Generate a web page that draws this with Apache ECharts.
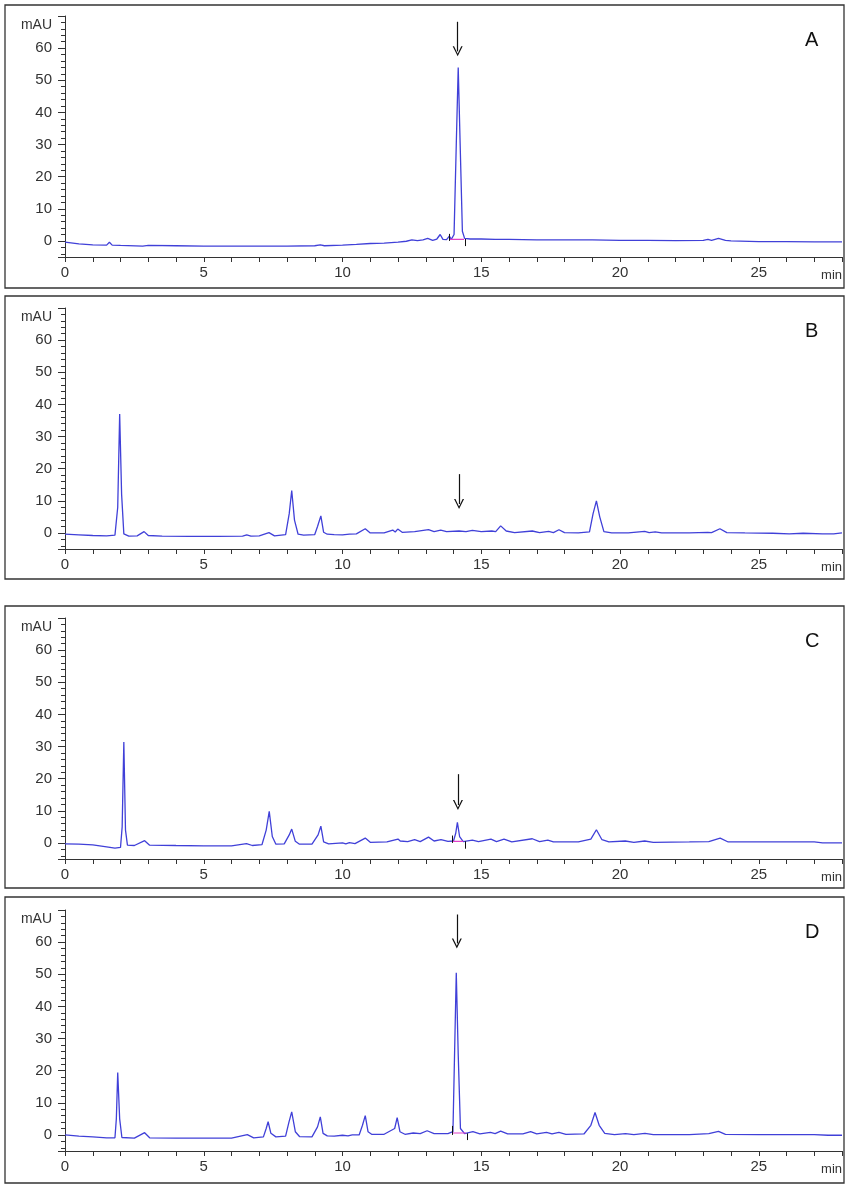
<!DOCTYPE html>
<html><head><meta charset="utf-8">
<script src="https://cdn.jsdelivr.net/npm/echarts@6/dist/echarts.min.js"></script>
<style>html,body{margin:0;padding:0;background:#fff}#c{width:850px;height:1187px}</style>
</head><body><div id="c"></div>
<script>
// ---------------- DATA ----------------
const panelLabels = ['A', 'B', 'C', 'D'];
const xTickLabels = [0, 5, 10, 15, 20, 25];
const yTickLabels = [0, 10, 20, 30, 40, 50, 60];
const xUnit = 'min';
const yUnit = 'mAU';

const traceA = [[0,-0.4],[0.5,-0.9],[1.0,-1.2],[1.5,-1.3],[1.6,-0.4],[1.7,-1.3],[2.0,-1.4],[2.8,-1.6],[3.0,-1.4],[4.0,-1.5],[5.0,-1.6],[6.0,-1.6],[7.0,-1.6],[8.0,-1.6],[9.0,-1.5],[9.2,-1.2],[9.35,-1.5],[10.0,-1.3],[10.5,-1.1],[11.0,-0.8],[11.5,-0.7],[12.0,-0.4],[12.3,-0.1],[12.5,0.3],[12.7,0.1],[12.9,0.3],[13.07,0.8],[13.25,0.2],[13.4,0.6],[13.52,2.0],[13.62,0.5],[13.75,0.4],[13.85,1.5],[13.92,0.5],[14.02,2.0],[14.1,30],[14.17,54],[14.24,30],[14.32,3],[14.4,0.8],[14.6,0.6],[15,0.6],[15.5,0.5],[16,0.5],[16.5,0.4],[17,0.3],[18,0.3],[19,0.3],[20,0.2],[21,0.2],[22,0.1],[23,0.2],[23.17,0.5],[23.3,0.2],[23.55,0.8],[23.8,0.2],[24,0.0],[25,-0.2],[26,-0.2],[27,-0.3],[28,-0.3]];

const traceB = [[0,-0.4],[0.5,-0.6],[1.0,-0.8],[1.5,-0.9],[1.8,-0.7],[1.9,8],[1.97,37],[2.04,12],[2.12,-0.3],[2.3,-1.0],[2.6,-0.9],[2.85,0.4],[3.0,-0.8],[3.5,-1.0],[4.5,-1.1],[5.5,-1.1],[6.4,-1.0],[6.55,-0.6],[6.7,-1.0],[7.0,-0.9],[7.35,0.1],[7.55,-0.9],[7.95,-0.5],[8.08,6],[8.17,13.2],[8.27,4],[8.4,-0.4],[8.6,-0.7],[9.0,-0.5],[9.1,2],[9.22,5.3],[9.32,0.2],[9.45,-0.4],[9.7,-0.5],[10.0,-0.6],[10.25,-0.4],[10.5,-0.3],[10.82,1.3],[11.0,0.0],[11.5,0.0],[11.81,0.9],[11.9,0.3],[11.99,1.2],[12.15,0.2],[12.6,0.4],[13.1,1.0],[13.3,0.4],[13.54,0.9],[13.75,0.4],[14.2,0.6],[14.45,0.4],[14.68,0.8],[15.0,0.4],[15.38,0.6],[15.52,0.4],[15.7,2.2],[15.9,0.6],[16.2,0.1],[16.84,0.6],[17.1,0.1],[17.43,0.5],[17.6,0.1],[17.8,1.0],[18.0,0.1],[18.5,0.0],[18.9,0.3],[19.03,6],[19.15,10.0],[19.27,5],[19.42,0.4],[19.7,0.0],[20.3,0.0],[20.89,0.5],[21.05,0.1],[21.27,0.3],[21.5,0.0],[22.5,0.0],[23.16,0.2],[23.3,0.1],[23.6,1.3],[23.85,0.1],[24.5,0.0],[25.5,-0.1],[26.1,-0.3],[26.6,-0.1],[27.3,-0.3],[27.7,-0.3],[28,0.0]];

const traceC = [[0,-0.3],[0.5,-0.4],[1.0,-0.6],[1.5,-1.2],[1.8,-1.6],[2.0,-1.4],[2.06,5],[2.12,31.4],[2.18,4],[2.25,-0.7],[2.5,-0.8],[2.87,0.7],[3.05,-0.7],[4,-0.8],[5,-0.9],[6,-0.9],[6.54,-0.2],[6.75,-0.8],[7.1,-0.5],[7.25,4],[7.36,9.8],[7.47,2],[7.6,-0.4],[7.9,-0.3],[8.08,2.5],[8.17,4.3],[8.3,0.5],[8.45,-0.4],[8.9,-0.4],[9.12,2.5],[9.22,5.2],[9.32,0.3],[9.5,-0.3],[10.0,0.0],[10.12,-0.3],[10.25,0.1],[10.45,-0.2],[10.82,1.5],[11.0,0.2],[11.6,0.3],[12.0,1.2],[12.08,0.6],[12.15,1.0],[12.35,0.4],[12.6,1.0],[12.8,0.4],[13.1,1.8],[13.3,0.6],[13.55,1.0],[13.8,0.5],[14.0,0.6],[14.08,3],[14.14,6.4],[14.22,2],[14.35,0.4],[14.68,0.9],[14.9,0.4],[15.35,1.2],[15.55,0.4],[15.82,1.2],[16.1,0.3],[16.84,1.3],[17.1,0.4],[17.4,0.9],[17.6,0.3],[18.5,0.3],[18.95,1.2],[19.15,4.1],[19.35,1.0],[19.6,0.3],[20.19,0.6],[20.5,0.2],[20.89,0.6],[21.2,0.2],[22.5,0.3],[23.2,0.4],[23.61,1.5],[23.9,0.3],[25,0.3],[26,0.3],[27,0.3],[27.3,0.0],[28,0.0]];

const traceD = [[0,0.0],[0.5,-0.4],[1.0,-0.6],[1.5,-0.9],[1.8,-0.9],[1.85,5],[1.9,19.4],[1.97,5],[2.05,-0.8],[2.5,-1.0],[2.87,0.7],[3.05,-0.9],[4,-1.0],[5,-1.0],[6,-1.0],[6.57,0.1],[6.8,-0.9],[7.15,-0.6],[7.25,2],[7.32,4.1],[7.42,0.5],[7.6,-0.6],[7.95,-0.4],[8.07,4],[8.17,7.2],[8.3,1],[8.45,-0.5],[8.9,-0.6],[9.1,2.5],[9.2,5.6],[9.3,0.5],[9.45,-0.3],[9.7,-0.4],[10.0,-0.1],[10.2,-0.3],[10.35,0.0],[10.6,0.0],[10.72,3],[10.82,6.0],[10.92,1],[11.05,0.2],[11.5,0.2],[11.88,2],[11.97,5.4],[12.07,1],[12.25,0.2],[12.55,0.6],[12.8,0.4],[13.05,1.3],[13.3,0.4],[13.8,0.4],[13.98,1.0],[14.05,30],[14.1,50.5],[14.17,25],[14.25,2],[14.4,0.4],[14.7,1.0],[14.95,0.3],[15.33,0.8],[15.5,0.4],[15.7,1.2],[15.95,0.3],[16.5,0.3],[16.78,1.0],[17.0,0.3],[17.35,0.8],[17.55,0.3],[17.8,0.8],[18.05,0.2],[18.7,0.3],[18.95,3],[19.1,7.0],[19.25,3],[19.45,0.5],[19.8,0.1],[20.2,0.4],[20.5,0.1],[20.9,0.5],[21.2,0.1],[22.5,0.1],[23.2,0.4],[23.55,1.1],[23.8,0.2],[25,0.1],[26,0.1],[27,0.1],[27.5,-0.1],[28,-0.1]];

// arrow annotations (time, start value, end value) per panel
const arrowTime = [14.15, 14.2, 14.16, 14.12];
const arrowFrom = [68.2, 18.3, 21.4, 68.6];
const arrowTo   = [59.0, 9.0, 11.8, 59.6];

// integration baselines (magenta) and event ticks (black)
const integA = [[13.85,0.5],[14.38,0.5]];
const integC = [[13.95,0.5],[14.35,0.5]];
const integD = [[13.95,0.6],[14.45,0.6]];
const ticksA = [[13.85,0,2.2],[14.41,0.6,-1.6]];
const ticksC = [[13.95,0,2.3],[14.43,0.5,-1.8]];
const ticksD = [[13.95,0,2.8],[14.5,0.5,-1.6]];

// ---------------- LAYOUT ----------------
const traces = [traceA, traceB, traceC, traceD];
const integs = [integA, null, integC, integD];
const tickSets = [ticksA, null, ticksC, ticksD];
const gridTops = [16, 308, 618, 910];
const gridH = 241;
const frameTops = [5, 296, 606, 897];
const frameHs = [283, 283, 282, 286];
const FONT = 'Liberation Sans, Arial, sans-serif';
const chevron = 'path://M0,10 L5,0 L10,10 L8.6,10 L5,2.6 L1.4,10 Z';

const grid = [], xAxis = [], yAxis = [], series = [], graphic = [];
for (let i = 0; i < 4; i++) {
  grid.push({ left: 65, right: 8, top: gridTops[i], height: gridH, containLabel: false });
  xAxis.push({
    type: 'value', gridIndex: i, min: 0, max: 28, interval: 1,
    axisLine: { onZero: false, lineStyle: { color: '#333', width: 1 } },
    axisTick: { show: true, length: 5, lineStyle: { color: '#333' } },
    splitLine: { show: false },
    axisLabel: { interval: 0, margin: 8, fontSize: 15, color: '#333', fontFamily: FONT,
      formatter: v => xTickLabels.includes(v) ? String(v) : '' },
    name: xUnit, nameLocation: 'end', nameGap: 0,
    nameTextStyle: { fontSize: 13, color: '#333', fontFamily: FONT, align: 'right', verticalAlign: 'top', padding: [12, 0, 0, 0] }
  });
  yAxis.push({
    type: 'value', gridIndex: i, min: -5, max: 70, splitNumber: 7,
    axisLine: { show: true, onZero: false, lineStyle: { color: '#333', width: 1 } },
    axisTick: { show: true, length: 7, lineStyle: { color: '#333' } },
    minorTick: { show: true, splitNumber: 5, length: 4, lineStyle: { color: '#333' } },
    splitLine: { show: false },
    axisLabel: { margin: 13, fontSize: 15, color: '#333', fontFamily: FONT,
      formatter: v => yTickLabels.includes(v) ? String(v) : '' },
    name: yUnit, nameLocation: 'end', nameGap: -9,
    nameTextStyle: { fontSize: 14, color: '#333', fontFamily: FONT, align: 'right', verticalAlign: 'middle', padding: [0, 13, 0, 0] }
  });
  series.push({
    type: 'line', xAxisIndex: i, yAxisIndex: i, data: traces[i],
    showSymbol: false, symbol: 'none', smooth: false,
    lineStyle: { color: '#4040d8', width: 1.3 },
    silent: true,
    markLine: {
      silent: true, animation: false, symbol: ['none', chevron], symbolSize: [10, 10],
      label: { show: false },
      lineStyle: { color: '#111', width: 1.2, type: 'solid' },
      data: [[{ coord: [arrowTime[i], arrowFrom[i]] }, { coord: [arrowTime[i], arrowTo[i]] }]]
    }
  });
  if (integs[i]) {
    series.push({
      type: 'line', xAxisIndex: i, yAxisIndex: i, data: integs[i],
      showSymbol: false, symbol: 'none', silent: true,
      lineStyle: { color: '#e040c8', width: 1.2 },
      markLine: {
        silent: true, animation: false, symbol: 'none', label: { show: false },
        lineStyle: { color: '#111', width: 1, type: 'solid' },
        data: tickSets[i].map(t => [{ coord: [t[0], t[1]] }, { coord: [t[0], t[2]] }])
      }
    });
  }
  graphic.push({ type: 'rect', shape: { x: 5, y: frameTops[i], width: 839, height: frameHs[i] },
    style: { fill: 'none', stroke: '#333', lineWidth: 1.3 }, silent: true });
  graphic.push({ type: 'text', left: 805, top: frameTops[i] + 25,
    style: { text: panelLabels[i], font: '20px ' + FONT, fill: '#111' }, silent: true });
}

const chart = echarts.init(document.getElementById('c'), null, { renderer: 'canvas' });
chart.setOption({ animation: false, backgroundColor: '#fff', grid, xAxis, yAxis, series, graphic });
</script></body></html>
